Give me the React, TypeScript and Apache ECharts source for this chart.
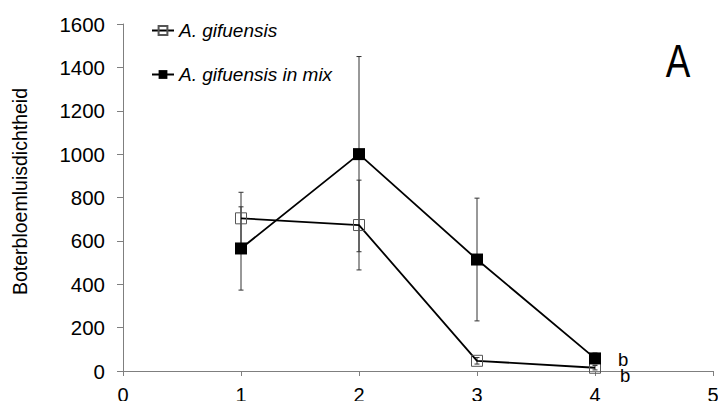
import React, { useEffect, useRef } from "react";
import * as echarts from "echarts";

// Sampling moments on the x axis
const xValues = [1, 2, 3, 4];

// A. gifuensis alone: means and standard errors
const gifuensis = [704, 673, 47, 15];
const gifuensisErr = [120, 207, 15, 10];

// A. gifuensis in mix: means and standard errors
const gifuensisMix = [565, 1000, 514, 58];
const gifuensisMixErr = [192, 450, 283, 25];

// Significance letters at the last sampling moment
const mixLetter = "b";
const aloneLetter = "b";

const seriesNames = ["A. gifuensis", "A. gifuensis in mix"];
const panelLabel = "A";
const yAxisName = "Boterbloemluisdichtheid";

const FONT = "'Liberation Sans', Arial, sans-serif";

function errorSeries(name: string, means: number[], errs: number[]) {
  return {
    type: "custom",
    name: name + " SE",
    z: 1,
    silent: true,
    data: xValues.map((x, i) => [x, means[i] - errs[i], means[i] + errs[i]]),
    renderItem: (_params: any, api: any) => {
      const x = api.value(0);
      const lo = api.coord([x, api.value(1)]);
      const hi = api.coord([x, api.value(2)]);
      const cap = 2.5;
      const style = { stroke: "#333", lineWidth: 1 };
      return {
        type: "group",
        children: [
          { type: "line", shape: { x1: lo[0], y1: lo[1], x2: hi[0], y2: hi[1] }, style },
          { type: "line", shape: { x1: lo[0] - cap, y1: lo[1], x2: lo[0] + cap, y2: lo[1] }, style },
          { type: "line", shape: { x1: hi[0] - cap, y1: hi[1], x2: hi[0] + cap, y2: hi[1] }, style },
        ],
      };
    },
  };
}

export default function App() {
  const ref = useRef<HTMLDivElement>(null);

  useEffect(() => {
    if (!ref.current) return;
    const chart = echarts.init(ref.current, null, { renderer: "svg" });

    const letterLabel = (text: string, dy: number) => ({
      show: true,
      position: "right",
      formatter: text,
      offset: [12, dy],
      fontSize: 18.5,
      lineHeight: 15,
      fontFamily: FONT,
      color: "#000",
    });

    chart.setOption({
      animation: false,
      backgroundColor: "#fff",
      grid: {
        left: 123,
        right: 5,
        top: 24,
        bottom: 30,
        containLabel: false,
        outerBoundsMode: "none",
      },
      legend: {
        orient: "vertical",
        left: 146,
        top: 16,
        itemWidth: 22,
        itemHeight: 11,
        itemGap: 25,
        textStyle: { fontSize: 19, fontStyle: "italic", fontFamily: FONT, color: "#000" },
        data: seriesNames,
      },
      xAxis: {
        type: "value",
        min: 0,
        max: 5,
        interval: 1,
        axisLine: { lineStyle: { color: "#7f7f7f", width: 1 } },
        axisTick: { show: true, length: 5, lineStyle: { color: "#7f7f7f" } },
        axisLabel: { fontSize: 20, fontFamily: FONT, color: "#000", margin: 14 },
        splitLine: { show: false },
      },
      yAxis: {
        type: "value",
        min: 0,
        max: 1600,
        interval: 200,
        name: yAxisName,
        nameLocation: "middle",
        nameGap: 93,
        nameTextStyle: {
          fontSize: 19.5,
          fontFamily: FONT,
          color: "#000",
          padding: [0, 0, 0, 12],
        },
        axisLine: { show: true, lineStyle: { color: "#7f7f7f", width: 1 } },
        axisTick: { show: true, length: 6, lineStyle: { color: "#7f7f7f" } },
        axisLabel: {
          fontSize: 20.5,
          fontFamily: FONT,
          color: "#000",
          margin: 18,
          formatter: (v: number) => String(v),
        },
        splitLine: { show: false },
      },
      series: [
        errorSeries(seriesNames[0], gifuensis, gifuensisErr),
        errorSeries(seriesNames[1], gifuensisMix, gifuensisMixErr),
        {
          type: "line",
          name: seriesNames[0],
          z: 3,
          symbol: "rect",
          symbolSize: 11,
          lineStyle: { color: "#000", width: 1.8 },
          itemStyle: { color: "none", borderColor: "#555", borderWidth: 1 },
          data: xValues.map((x, i) =>
            i === xValues.length - 1
              ? { value: [x, gifuensis[i]], label: letterLabel(aloneLetter, 8) }
              : [x, gifuensis[i]]
          ),
        },
        {
          type: "line",
          name: seriesNames[1],
          z: 4,
          symbol: "rect",
          symbolSize: 12,
          lineStyle: { color: "#000", width: 1.8 },
          itemStyle: { color: "#000", borderColor: "#000", borderWidth: 0 },
          data: xValues.map((x, i) =>
            i === xValues.length - 1
              ? { value: [x, gifuensisMix[i]], label: letterLabel(mixLetter, 1) }
              : [x, gifuensisMix[i]]
          ),
        },
      ],
      graphic: [
        {
          type: "text",
          x: 678,
          y: 61,
          scaleX: 0.8,
          style: {
            text: panelLabel,
            font: `46px ${FONT}`,
            fill: "#000",
            textAlign: "center",
            textVerticalAlign: "middle",
            align: "center",
            verticalAlign: "middle",
          },
        },
      ],
    });

    return () => chart.dispose();
  }, []);

  return (
    <div
      ref={ref}
      style={{ position: "fixed", left: 0, top: 0, width: 718, height: 401, background: "#fff" }}
    />
  );
}
